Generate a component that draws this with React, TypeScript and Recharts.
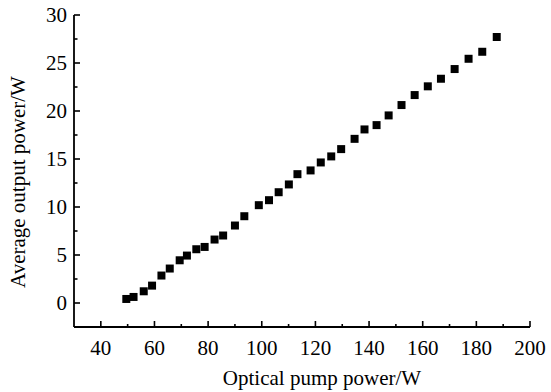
import { Scatter, ScatterChart, XAxis, YAxis } from "recharts";

const pumpPower = [
  49.5, 52.2, 56.0, 59.1, 62.6, 65.7, 69.4, 72.1, 75.6, 78.7, 82.4, 85.6, 90.0, 93.5, 98.9, 102.7, 106.3, 110.1,
  113.3, 118.2, 122.0, 125.9, 129.6, 134.6, 138.3, 142.8, 147.3, 152.1, 157.0, 161.9, 166.8, 171.9, 177.1, 182.2,
  187.6,
];
const outputPower = [
  0.42, 0.63, 1.22, 1.81, 2.86, 3.59, 4.45, 4.94, 5.6, 5.84, 6.61, 7.03, 8.07, 9.04, 10.19, 10.71, 11.54, 12.35,
  13.42, 13.81, 14.64, 15.27, 16.03, 17.1, 18.08, 18.53, 19.54, 20.62, 21.66, 22.57, 23.36, 24.37, 25.44, 26.17,
  27.71,
];

const xTicks = [40, 50, 60, 70, 80, 90, 100, 110, 120, 130, 140, 150, 160, 170, 180, 190, 200];
const xLabels = [40, 60, 80, 100, 120, 140, 160, 180, 200];
const yTicks = [0, 2.5, 5, 7.5, 10, 12.5, 15, 17.5, 20, 22.5, 25, 27.5, 30];
const yLabels = [0, 5, 10, 15, 20, 25, 30];

const points = pumpPower.map((p, i) => ({ x: p, y: outputPower[i] }));

const FONT = "'Liberation Serif', 'Times New Roman', serif";
const textStyle = { fontFamily: FONT, fontSize: 21, fill: "#000" };

function XTick({ x, y, payload }: any) {
  const major = xLabels.includes(payload.value);
  return (
    <g>
      <line x1={x} y1={y} x2={x} y2={y - (major ? 6 : 3)} stroke="#000" strokeWidth={1.6} />
      {major && (
        <text x={x} y={y + 28} textAnchor="middle" style={textStyle}>
          {payload.value}
        </text>
      )}
    </g>
  );
}

function YTick({ x, y, payload }: any) {
  const major = yLabels.includes(payload.value);
  return (
    <g>
      <line x1={x} y1={y} x2={x + (major ? 6 : 3.5)} y2={y} stroke="#000" strokeWidth={1.6} />
      {major && (
        <text x={x - 7} y={y + 7} textAnchor="end" style={textStyle}>
          {payload.value}
        </text>
      )}
    </g>
  );
}

function XTitle({ viewBox }: any) {
  return (
    <text x={viewBox.x + viewBox.width / 2 + 20} y={385} textAnchor="middle" style={textStyle}>
      Optical pump power/W
    </text>
  );
}

function YTitle({ viewBox }: any) {
  const cx = 25;
  const cy = viewBox.y + viewBox.height / 2 + 11;
  return (
    <text x={cx} y={cy} transform={`rotate(-90, ${cx}, ${cy})`} textAnchor="middle" style={textStyle}>
      Average output power/W
    </text>
  );
}

export default function App() {
  return (
    <div style={{ position: "absolute", left: 0, top: 0, width: 551, height: 392, background: "#fff" }}>
      <ScatterChart width={551} height={392} margin={{ top: 15, right: 21, bottom: 0, left: 0 }}>
        <XAxis
          type="number"
          dataKey="x"
          domain={[30, 200]}
          ticks={xTicks}
          interval={0}
          height={65}
          tickSize={0}
          tickMargin={0}
          tickLine={false}
          tick={<XTick />}
          axisLine={{ stroke: "#000", strokeWidth: 1.8 }}
          label={<XTitle />}
        />
        <YAxis
          type="number"
          dataKey="y"
          domain={[-2.5, 30]}
          ticks={yTicks}
          interval={0}
          width={74}
          tickSize={0}
          tickMargin={0}
          tickLine={false}
          tick={<YTick />}
          axisLine={{ stroke: "#000", strokeWidth: 1.8 }}
          label={<YTitle />}
        />
        <Scatter data={points} fill="#000" shape="square" isAnimationActive={false} />
      </ScatterChart>
    </div>
  );
}
